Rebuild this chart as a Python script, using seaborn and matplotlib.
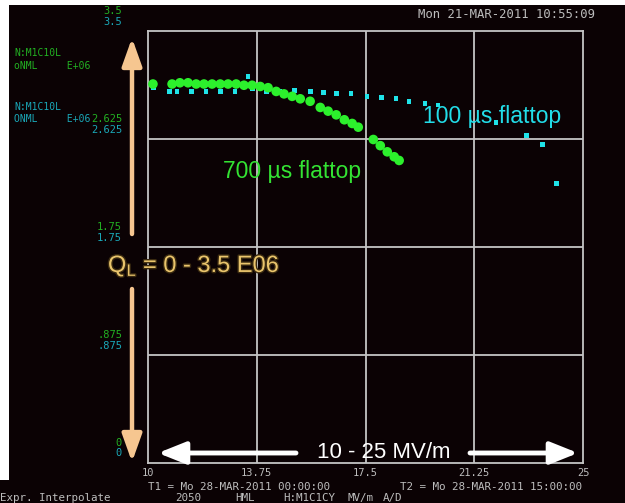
import matplotlib
matplotlib.use("Agg")
import matplotlib.pyplot as plt
import matplotlib.patheffects as pe
from matplotlib.patches import Rectangle
import seaborn as sns
import pandas as pd

# ---------------- data ----------------
x_100us = [10.2, 10.75, 11.0, 11.5, 12.0, 12.5, 13.0, 13.45, 13.6, 14.1, 14.55, 15.05,
           15.6, 16.05, 16.5, 17.0, 17.55, 18.05, 18.55, 19.0, 19.55, 20.0, 22.0,
           23.05, 23.6, 24.1]
q_100us = [3.04, 3.01, 3.01, 3.01, 3.01, 3.01, 3.01, 3.13, 3.03, 3.01, 3.01, 3.02,
           3.01, 3.00, 2.99, 2.99, 2.97, 2.96, 2.95, 2.93, 2.91, 2.90, 2.76,
           2.65, 2.58, 2.26]

x_700us = [10.17, 10.83, 11.10, 11.38, 11.66, 11.93, 12.21, 12.49, 12.76, 13.04, 13.31,
           13.59, 13.87, 14.14, 14.42, 14.69, 14.97, 15.25, 15.59, 15.94, 16.21, 16.49,
           16.77, 17.04, 17.25, 17.77, 18.01, 18.25, 18.49, 18.66]
q_700us = [3.07, 3.07, 3.08, 3.08, 3.07, 3.07, 3.07, 3.07, 3.07, 3.07, 3.06,
           3.06, 3.05, 3.04, 3.01, 2.99, 2.97, 2.95, 2.93, 2.88, 2.85, 2.82,
           2.78, 2.75, 2.72, 2.62, 2.57, 2.52, 2.48, 2.45]

x_ticks = [10, 13.75, 17.5, 21.25, 25]
x_tick_labels = ["10", "13.75", "17.5", "21.25", "25"]
y_ticks = [3.5, 2.625, 1.75, 0.875, 0]
y_tick_labels = ["3.5", "2.625", "1.75", ".875", "0"]

# ---------------- style ----------------
W, H = 625, 503
BG = "#0b0204"
GRID = "#c4c4c4"
GREEN = "#2cf02c"
CYAN = "#1fe3e8"
LBL_GREEN = "#22b022"
LBL_CYAN = "#1aa8b8"
ORANGE = "#f6c690"
GOLD = "#e9c46c"
MONO = "DejaVu Sans Mono"
SANS = "Liberation Sans"

sns.set_style("dark")
plt.rcParams["font.family"] = [SANS, "DejaVu Sans"]

fig = plt.figure(figsize=(W / 100, H / 100), dpi=100)
fig.patch.set_facecolor(BG)


def fx(px):
    return px / W


def fy(py):
    return 1 - py / H


# white border strips of the screenshot
fig.add_artist(Rectangle((0, fy(5)), 1, fy(0) - fy(5), transform=fig.transFigure,
                         facecolor="white", edgecolor="none"))
fig.add_artist(Rectangle((0, fy(480)), fx(9), fy(0) - fy(480), transform=fig.transFigure,
                         facecolor="white", edgecolor="none"))

left, right, top, bottom = 148, 583, 31, 462.5
ax = fig.add_axes([fx(left), fy(bottom), fx(right) - fx(left), fy(top) - fy(bottom)])
ax.set_facecolor(BG)
ax.set_xlim(10, 25)
ax.set_ylim(0, 3.5)
for s in ax.spines.values():
    s.set_color(GRID)
    s.set_linewidth(1.3)
for v in x_ticks[1:-1]:
    ax.axvline(v, color=GRID, lw=1.3, zorder=1)
for v in y_ticks[1:-1]:
    ax.axhline(v, color=GRID, lw=1.3, zorder=1)
ax.grid(False)

ax.set_xticks(x_ticks, x_tick_labels)
ax.set_yticks([])
ax.tick_params(axis="x", length=0, pad=4, labelsize=7.5, labelcolor="#bdbdbd")
for t in ax.get_xticklabels():
    t.set_fontfamily(MONO)

df100 = pd.DataFrame({"E": x_100us, "Q": q_100us})
df700 = pd.DataFrame({"E": x_700us, "Q": q_700us})
sns.scatterplot(data=df100, x="E", y="Q", ax=ax, marker="s", s=12, color=CYAN,
                edgecolor="none", zorder=3)
sns.scatterplot(data=df700, x="E", y="Q", ax=ax, marker="o", s=48, color=GREEN,
                edgecolor="none", zorder=4)
ax.set_xlabel("")
ax.set_ylabel("")

# duplicated y labels (green / cyan)
for v, lab in zip(y_ticks, y_tick_labels):
    ax.annotate(lab, xy=(0, v), xycoords=("axes fraction", "data"),
                xytext=(-26, 20), textcoords="offset pixels", ha="right", va="center",
                fontsize=7.5, family=MONO, color=LBL_GREEN)
    ax.annotate(lab, xy=(0, v), xycoords=("axes fraction", "data"),
                xytext=(-26, 9), textcoords="offset pixels", ha="right", va="center",
                fontsize=7.5, family=MONO, color=LBL_CYAN)

# channel labels
fig.text(fx(14), fy(53), "N:M1C10L", fontsize=7, family=MONO, color=LBL_GREEN, va="center")
fig.text(fx(14), fy(66), "oNML     E+06", fontsize=7, family=MONO, color=LBL_GREEN, va="center")
fig.text(fx(14), fy(107), "N:M1C10L", fontsize=7, family=MONO, color=LBL_CYAN, va="center")
fig.text(fx(14), fy(119), "ONML     E+06", fontsize=7, family=MONO, color=LBL_CYAN, va="center")

# header / footer
fig.text(fx(418), fy(14), "Mon 21-MAR-2011 10:55:09", fontsize=8.8, family=MONO,
         color="#bdbdbd", va="center")
fig.text(fx(148), fy(487), "T1 = Mo 28-MAR-2011 00:00:00", fontsize=7.8, family=MONO,
         color="#bdbdbd", va="center")
fig.text(fx(400), fy(487), "T2 = Mo 28-MAR-2011 15:00:00", fontsize=7.8, family=MONO,
         color="#bdbdbd", va="center")
fig.text(fx(0), fy(498), "Expr. Interpolate", fontsize=7.8, family=MONO,
         color="#bdbdbd", va="center")
for xp, t in [(175, "2050"), (235, "HML"), (283, "H:M1C1CY"), (347, "MV/m"), (383, "A/D")]:
    fig.text(fx(xp), fy(498), t, fontsize=7.8, family=MONO, color="#bdbdbd", va="center")

# series annotations
fig.text(fx(292), fy(172), "700 \u00b5s flattop", fontsize=16.5, color="#33e333",
         ha="center", va="center", family=SANS)
fig.text(fx(492), fy(117), "100 \u00b5s flattop", fontsize=16.5, color="#22dde8",
         ha="center", va="center", family=SANS)


def arrow(tail, tip, color, lw, ms, hw=0.3):
    fig.add_artist(plt.Annotation(
        "", xy=(tip[0], H - tip[1]), xytext=(tail[0], H - tail[1]),
        xycoords="figure pixels", textcoords="figure pixels",
        arrowprops=dict(arrowstyle=f"-|>,head_length=0.7,head_width={hw}", color=color,
                        lw=lw, mutation_scale=ms, shrinkA=0, shrinkB=0)))


# vertical Q_L arrow
arrow((132, 234), (132, 38), ORANGE, 3.2, 24, 0.25)
arrow((132, 289), (132, 462), ORANGE, 3.2, 24, 0.25)
fig.text(fx(194), fy(266), r"Q$_\mathregular{L}$ = 0 - 3.5 E06", fontsize=17, color=GOLD,
         ha="center", va="center", family=SANS,
         path_effects=[pe.withStroke(linewidth=2, foreground="#3a2a10")])

# horizontal field arrow
arrow((296, 453), (158, 453), "white", 3.5, 24, 0.28)
arrow((470, 453), (578, 453), "white", 3.5, 24, 0.28)
fig.text(fx(384), fy(452), "10 - 25 MV/m", fontsize=16, color="white",
         ha="center", va="center", family=SANS)

fig.savefig("out.png", dpi=100, facecolor=BG)
